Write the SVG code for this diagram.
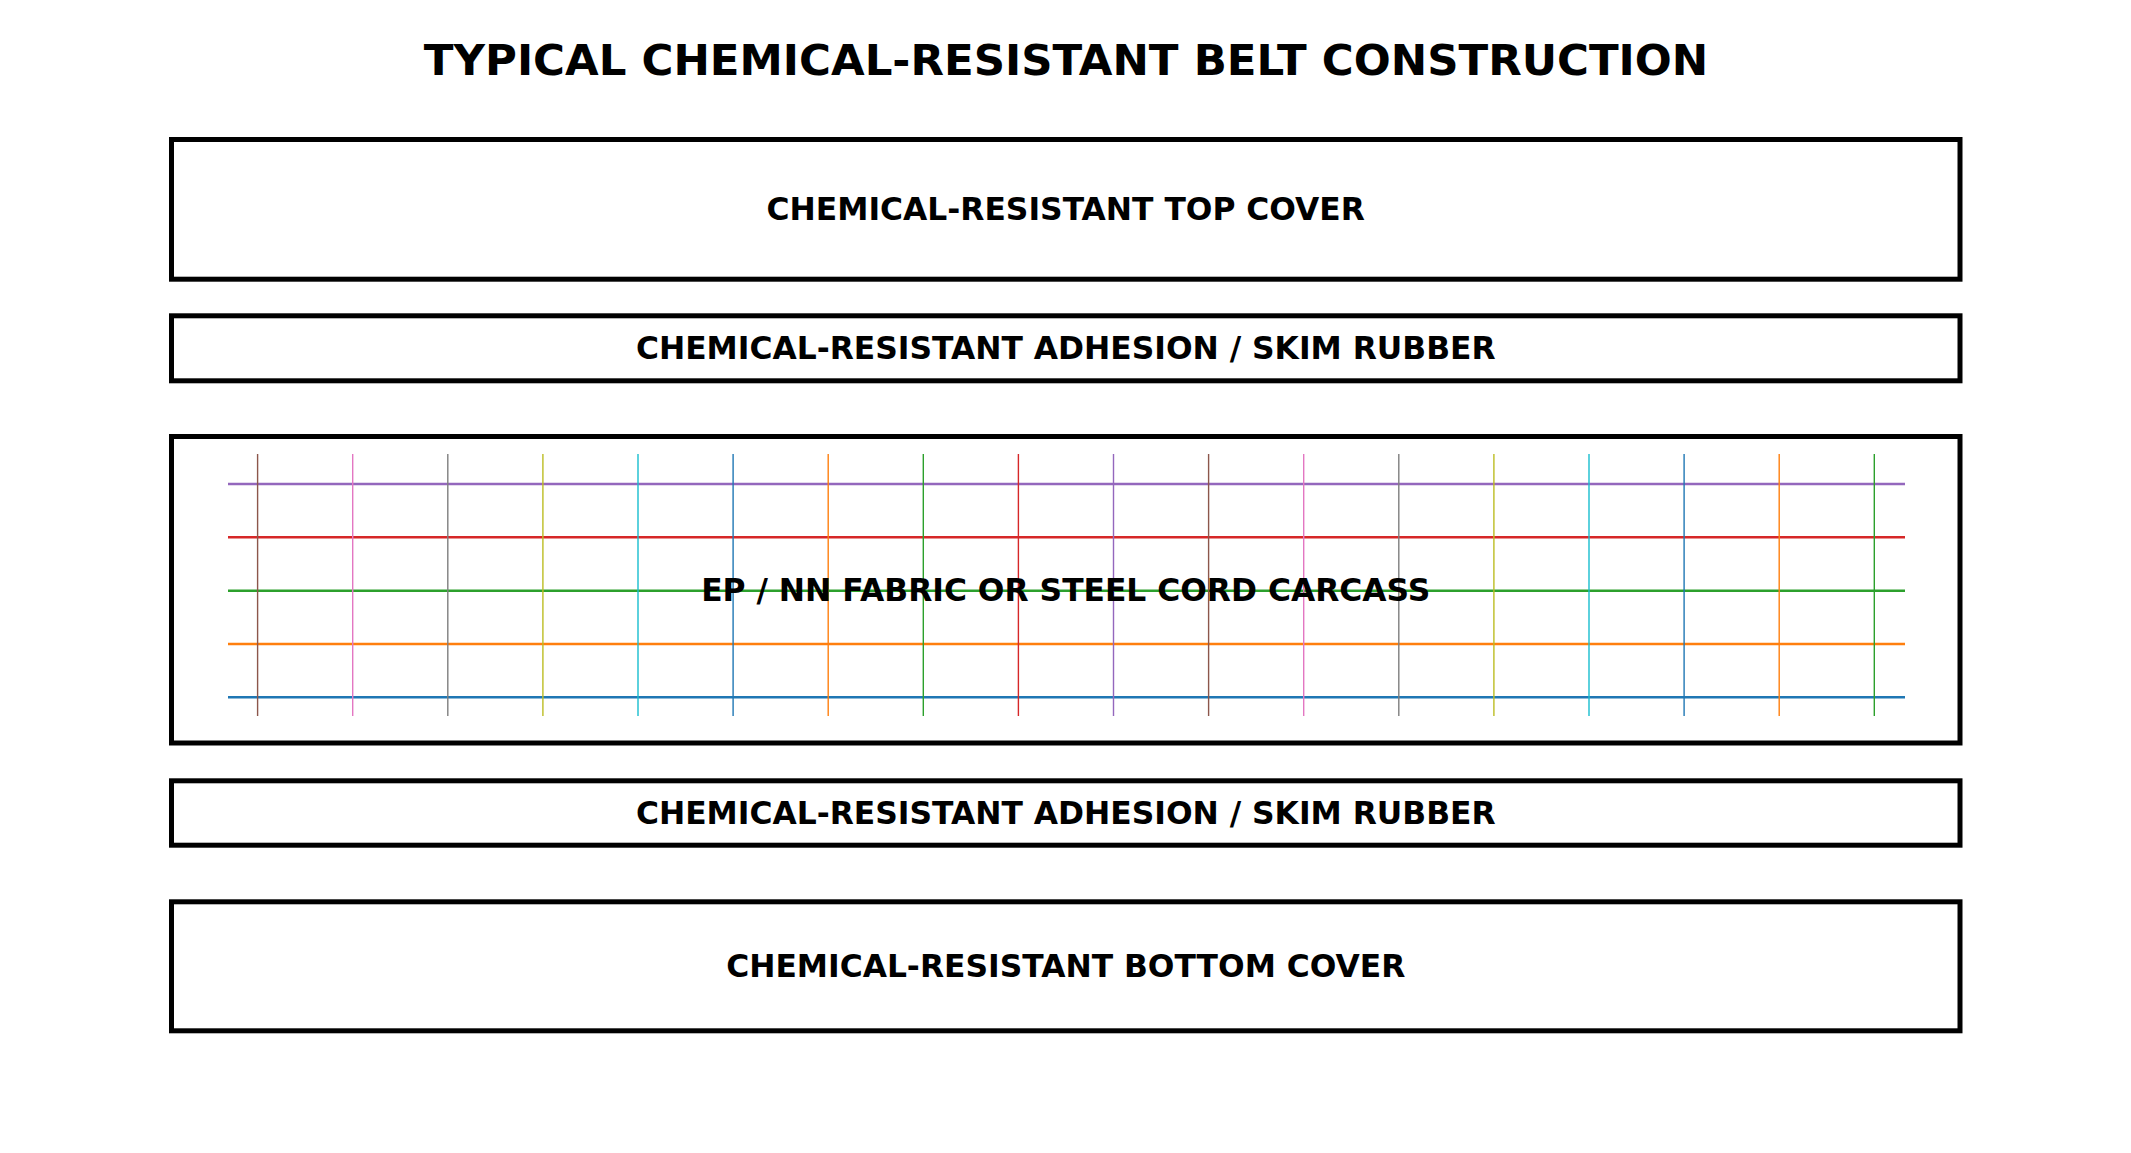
<svg xmlns="http://www.w3.org/2000/svg" width="2131" height="1153" viewBox="0 0 2131 1153">
<style>
.bg{fill:#ffffff}
.layer{fill:#ffffff;stroke:#000000;stroke-width:5}
.lbl{font-family:"DejaVu Sans","Liberation Sans",sans-serif;font-weight:bold;font-size:31.35px;fill:#000000;text-anchor:middle}
.title{font-family:"DejaVu Sans","Liberation Sans",sans-serif;font-weight:bold;font-size:43.5px;fill:#000000;text-anchor:middle}
.h{stroke-width:2.6;fill:none}
.v{stroke-width:1.4;fill:none}
</style>
<rect class="bg" x="0" y="0" width="2131" height="1153"/>
<text class="title" x="1066" y="75">TYPICAL CHEMICAL-RESISTANT BELT CONSTRUCTION</text>
<g id="top-cover">
<rect class="layer" x="171.5" y="139.5" width="1788.5" height="139.7"/>
<text class="lbl" x="1065.75" y="220.3">CHEMICAL-RESISTANT TOP COVER</text>
</g>
<g id="skim-top">
<rect class="layer" x="171.5" y="315.8" width="1788.5" height="65"/>
<text class="lbl" x="1065.75" y="359.3">CHEMICAL-RESISTANT ADHESION / SKIM RUBBER</text>
</g>
<g id="carcass">
<rect class="layer" x="171.5" y="436.5" width="1788.5" height="306.5"/>
<g id="weft">
<line class="h" x1="228" y1="697.3" x2="1905" y2="697.3" stroke="#1f77b4"/>
<line class="h" x1="228" y1="644" x2="1905" y2="644" stroke="#ff7f0e"/>
<line class="h" x1="228" y1="590.7" x2="1905" y2="590.7" stroke="#2ca02c"/>
<line class="h" x1="228" y1="537.3" x2="1905" y2="537.3" stroke="#d62728"/>
<line class="h" x1="228" y1="484" x2="1905" y2="484" stroke="#9467bd"/>
</g>
<g id="warp">
<line class="v" x1="257.6" y1="454" x2="257.6" y2="716" stroke="#8c564b"/>
<line class="v" x1="352.7" y1="454" x2="352.7" y2="716" stroke="#e377c2"/>
<line class="v" x1="447.8" y1="454" x2="447.8" y2="716" stroke="#7f7f7f"/>
<line class="v" x1="542.9" y1="454" x2="542.9" y2="716" stroke="#bcbd22"/>
<line class="v" x1="638" y1="454" x2="638" y2="716" stroke="#17becf"/>
<line class="v" x1="733.1" y1="454" x2="733.1" y2="716" stroke="#1f77b4"/>
<line class="v" x1="828.2" y1="454" x2="828.2" y2="716" stroke="#ff7f0e"/>
<line class="v" x1="923.3" y1="454" x2="923.3" y2="716" stroke="#2ca02c"/>
<line class="v" x1="1018.4" y1="454" x2="1018.4" y2="716" stroke="#d62728"/>
<line class="v" x1="1113.5" y1="454" x2="1113.5" y2="716" stroke="#9467bd"/>
<line class="v" x1="1208.6" y1="454" x2="1208.6" y2="716" stroke="#8c564b"/>
<line class="v" x1="1303.7" y1="454" x2="1303.7" y2="716" stroke="#e377c2"/>
<line class="v" x1="1398.8" y1="454" x2="1398.8" y2="716" stroke="#7f7f7f"/>
<line class="v" x1="1493.9" y1="454" x2="1493.9" y2="716" stroke="#bcbd22"/>
<line class="v" x1="1589" y1="454" x2="1589" y2="716" stroke="#17becf"/>
<line class="v" x1="1684.1" y1="454" x2="1684.1" y2="716" stroke="#1f77b4"/>
<line class="v" x1="1779.2" y1="454" x2="1779.2" y2="716" stroke="#ff7f0e"/>
<line class="v" x1="1874.3" y1="454" x2="1874.3" y2="716" stroke="#2ca02c"/>
</g>
<text class="lbl" x="1065.75" y="600.5">EP / NN FABRIC OR STEEL CORD CARCASS</text>
</g>
<g id="skim-bottom">
<rect class="layer" x="171.5" y="780.8" width="1788.5" height="64.4"/>
<text class="lbl" x="1065.75" y="823.7">CHEMICAL-RESISTANT ADHESION / SKIM RUBBER</text>
</g>
<g id="bottom-cover">
<rect class="layer" x="171.5" y="901.8" width="1788.5" height="129"/>
<text class="lbl" x="1065.75" y="977">CHEMICAL-RESISTANT BOTTOM COVER</text>
</g>
<g id="connectors"/>
</svg>
